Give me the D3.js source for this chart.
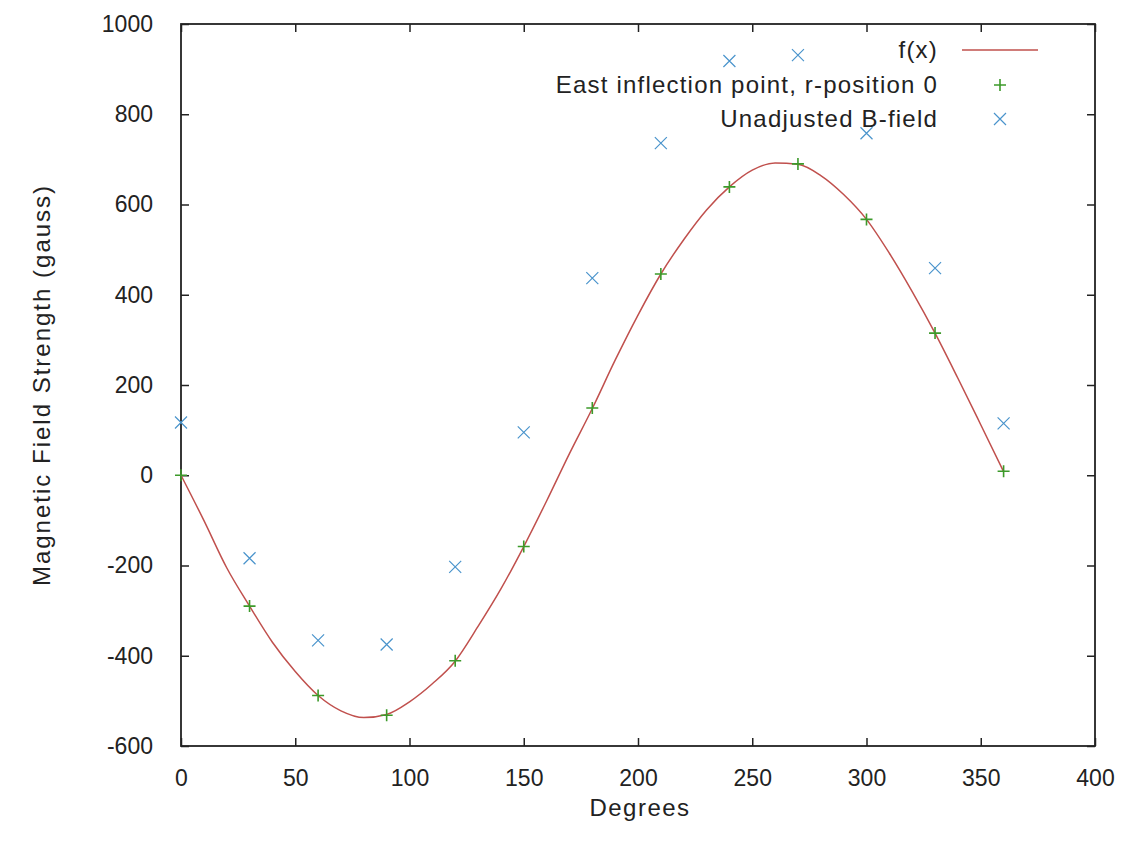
<!DOCTYPE html>
<html>
<head>
<meta charset="utf-8">
<script src="https://cdn.jsdelivr.net/npm/d3@7"></script>
<style>
  body { margin: 0; background: #fff; }
  text { font-family: "Liberation Sans", Arial, sans-serif; fill: #222; }
</style>
</head>
<body>
<svg id="mainsvg" width="1138" height="852"></svg>
<script>
// measured angles (degrees)
const degrees = [0, 30, 60, 90, 120, 150, 180, 210, 240, 270, 300, 330, 360];
// East inflection point, r-position 0
const eastField = [0, -290, -488, -532, -411, -158, 149, 446, 639, 690, 567, 315, 9];
// Unadjusted B-field
const rawField = [117, -184, -366, -375, -203, 95, 437, 736, 918, 931, 758, 459, 115];
// f(x)
const curveX = [0, 10, 20, 30, 40, 50, 60, 70, 80, 90, 100, 110, 120, 130, 140, 150, 160, 170, 180,
    190, 200, 210, 220, 230, 240, 250, 260, 270, 280, 290, 300, 310, 320, 330, 340, 350, 360];
const curveY = [0, -100, -205, -290, -370, -435, -488, -522, -537, -530, -502, -462, -412, -335, -252, -158, -57, 48, 148,
    255, 355, 446, 522, 588, 639, 676, 692, 689, 664, 622, 567, 492, 407, 315, 215, 112, 8];
const xTicks = [0, 50, 100, 150, 200, 250, 300, 350, 400];
const yTicks = [-600, -400, -200, 0, 200, 400, 600, 800, 1000];
const legendLabels = ['f(x)', 'East inflection point, r-position 0', 'Unadjusted B-field'];

const svg = d3.select('#mainsvg');
const margin = { top: 24, left: 181, right: 43, bottom: 106 };
const width = +svg.attr('width');
const height = +svg.attr('height');
const innerWidth = width - margin.left - margin.right;
const innerHeight = height - margin.top - margin.bottom;

const red = '#c0504d';
const green = '#3c9a2a';
const blue = '#4a94cc';

const x = d3.scaleLinear().domain([0, 400]).range([0, innerWidth]);
const y = d3.scaleLinear().domain([-600, 1000]).range([innerHeight, 0]);

const g = svg.append('g').attr('transform', `translate(${margin.left},${margin.top})`);

// axes: ticks pointing inward, mirrored on top and right
const tickLen = 8;
const fmt = d => String(d);
g.append('g').attr('transform', `translate(0,${innerHeight})`)
    .call(d3.axisBottom(x).tickValues(xTicks).tickFormat(fmt).tickSizeInner(-tickLen).tickSizeOuter(0).tickPadding(24));
g.append('g')
    .call(d3.axisLeft(y).tickValues(yTicks).tickFormat(fmt).tickSizeInner(-tickLen).tickSizeOuter(0).tickPadding(28));
g.append('g')
    .call(d3.axisTop(x).tickValues(xTicks).tickSizeInner(-tickLen).tickSizeOuter(0).tickFormat(''));
g.append('g').attr('transform', `translate(${innerWidth},0)`)
    .call(d3.axisRight(y).tickValues(yTicks).tickSizeInner(-tickLen).tickSizeOuter(0).tickFormat(''));

g.selectAll('.domain').remove();
g.selectAll('.tick line').attr('stroke', '#222').attr('stroke-width', 1.5);
g.selectAll('.tick text').attr('font-size', 23).attr('fill', '#222');

g.append('rect')
    .attr('width', innerWidth).attr('height', innerHeight)
    .attr('fill', 'none').attr('stroke', '#222').attr('stroke-width', 1.8);

// axis titles
svg.append('text')
    .attr('x', margin.left + x(200) + 2).attr('y', 816)
    .attr('text-anchor', 'middle').attr('font-size', 24).attr('letter-spacing', 1.5)
    .text('Degrees');
svg.append('text')
    .attr('transform', `translate(50,${margin.top + innerHeight / 2}) rotate(-90)`)
    .attr('text-anchor', 'middle').attr('font-size', 24).attr('letter-spacing', 2)
    .text('Magnetic Field Strength (gauss)');

// f(x) line
const curveData = curveX.map((d, i) => ({ x: d, y: curveY[i] }));
const line = d3.line().x(d => x(d.x)).y(d => y(d.y)).curve(d3.curveMonotoneX);
g.append('path').datum(curveData)
    .attr('d', line).attr('fill', 'none').attr('stroke', red).attr('stroke-width', 1.5);

// markers
const s = 6;
function plus(sel, color) {
    sel.append('path')
        .attr('d', `M${-s},0H${s}M0,${-s}V${s}`)
        .attr('stroke', color).attr('stroke-width', 1.6).attr('fill', 'none');
}
function cross(sel, color) {
    sel.append('path')
        .attr('d', `M${-s},${-s}L${s},${s}M${-s},${s}L${s},${-s}`)
        .attr('stroke', color).attr('stroke-width', 1.2).attr('fill', 'none');
}

const eastData = degrees.map((d, i) => ({ x: d, y: eastField[i] }));
const rawData = degrees.map((d, i) => ({ x: d, y: rawField[i] }));

g.selectAll('.east').data(eastData).enter().append('g')
    .attr('class', 'east')
    .attr('transform', d => `translate(${x(d.x)},${y(d.y)})`)
    .call(plus, green);
g.selectAll('.raw').data(rawData).enter().append('g')
    .attr('class', 'raw')
    .attr('transform', d => `translate(${x(d.x)},${y(d.y)})`)
    .call(cross, blue);

// legend
const legend = svg.append('g');
const rowY = [50, 85, 119];
legendLabels.forEach((label, i) => {
    legend.append('text')
        .attr('x', 938).attr('y', rowY[i]).attr('dy', '0.35em')
        .attr('text-anchor', 'end').attr('font-size', 24).attr('letter-spacing', 1.2)
        .text(label);
});
legend.append('line')
    .attr('x1', 962).attr('x2', 1038).attr('y1', rowY[0]).attr('y2', rowY[0])
    .attr('stroke', red).attr('stroke-width', 1.5);
legend.append('g').attr('transform', `translate(1000,${rowY[1]})`).call(plus, green);
legend.append('g').attr('transform', `translate(1000,${rowY[2]})`).call(cross, blue);
</script>
</body>
</html>
